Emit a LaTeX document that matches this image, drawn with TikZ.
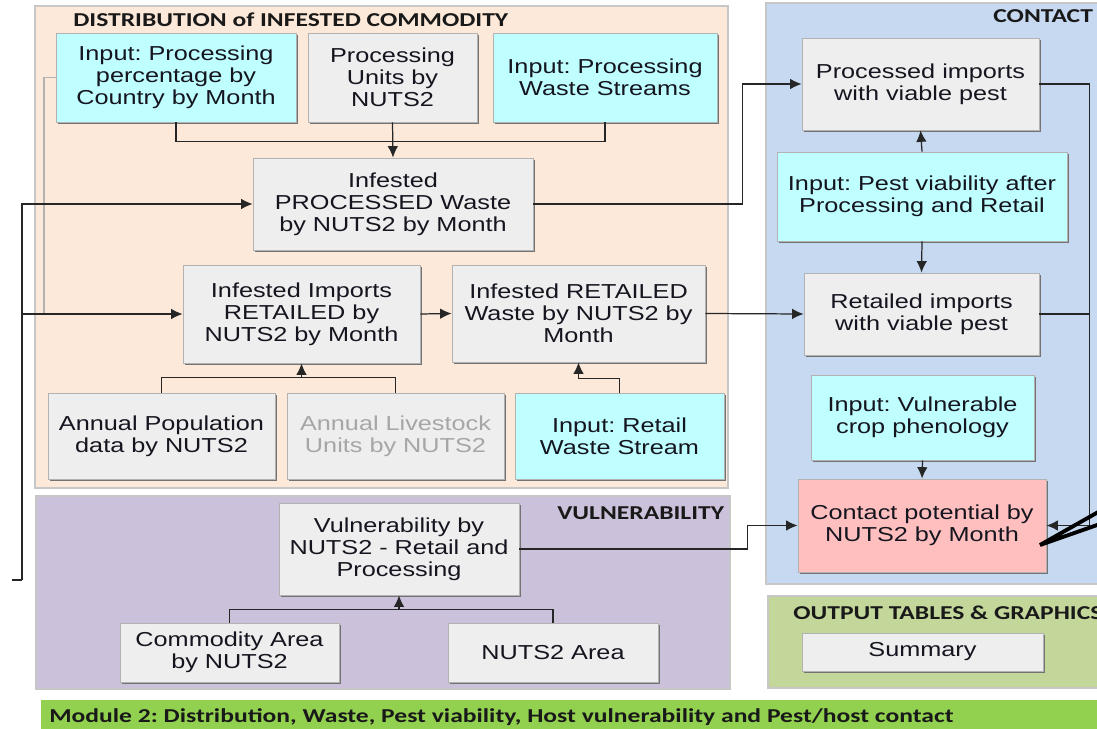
\documentclass[tikz,border=0pt]{standalone}
\usepackage{fontspec}
\newfontfamily\boxfont[FakeStretch=1.25]{Liberation Sans}
\newfontfamily\titlefont[FakeStretch=1.3]{Carlito}
\usepackage{tikz}
\usetikzlibrary{arrows,arrows.meta,shadows}
\frenchspacing

\definecolor{distpeach}{HTML}{FDE9D9}
\definecolor{contblue}{HTML}{C6D9F0}
\definecolor{vulnpurple}{HTML}{CCC1DA}
\definecolor{outgreen}{HTML}{C4D79B}
\definecolor{bargreen}{HTML}{92D050}
\definecolor{boxgray}{HTML}{EEEEEE}
\definecolor{incyan}{HTML}{BFFFFF}
\definecolor{contpink}{HTML}{FFBFBF}
\definecolor{lstgray}{HTML}{A6A6A6}
\definecolor{boxtext}{HTML}{15151F}

\newcommand\bxf{\boxfont\fontsize{11.5}{12.5}\selectfont}
\newcommand\ttlf{\titlefont\bfseries\fontsize{11.2}{13}\selectfont}

\tikzset{
  panel/.style={draw=black!22, line width=0.8pt},
  bx/.style={draw=black!30, line width=0.5pt, fill=boxgray, align=center, text=boxtext,
    font=\bxf, inner sep=1pt,
    drop shadow={shadow xshift=1.3pt, shadow yshift=-1.3pt, fill=black!55, opacity=1}},
  inbx/.style={bx, fill=incyan},
  ttl/.style={anchor=west, font=\ttlf, text=black!90, inner sep=0pt},
  link/.style={line width=0.7pt, draw=black!85},
}

\begin{document}
\begin{tikzpicture}[>={Latex[length=6.5pt,width=6pt]}, x=0.02cm, y=-0.02cm]
		%\draw [help lines] (0,0) grid (1097,729);
		\clip (0,0) rectangle (1097,729);
		\fill [white] (0,0) rectangle (1097,729);
		
		% Pannelli
		\draw [panel, fill=distpeach] (35,6) rectangle (728,488);
		\draw [panel, fill=contblue] (766,3) rectangle (1110,584);
		\draw [panel, fill=vulnpurple] (36,496) rectangle (730,689);
		\draw [panel, fill=outgreen] (768,596) rectangle (1110,688);
		\fill [bargreen] (41,700) rectangle (1110,740);
		
		% Titoli
		\node [ttl] (tdist) at (73,20) {DISTRIBUTION of INFESTED COMMODITY};
		\node [ttl] (tcont) at (993,16) {CONTACT};
		\node [ttl] (tvuln) at (557,513) {VULNERABILITY};
		\node [ttl] (tout) at (793,613) {OUTPUT TABLES \& GRAPHICS};
		\node [ttl] (tmod) at (49,717) {Module 2: Distribution, Waste, Pest viability, Host vulnerability and Pest/host contact};
		
		% Distribuzione
		\node [inbx, minimum width=4.8cm, minimum height=1.78cm] (inppct) at (176,77.5) {Input: Processing\\percentage by\\Country by Month};
		\node [bx, minimum width=3.38cm, minimum height=1.78cm] (procunits) at (392.5,77.5) {Processing\\Units by\\NUTS2};
		\node [inbx, minimum width=4.48cm, minimum height=1.78cm] (inwaste) at (605,77.5) {Input: Processing\\Waste Streams};
		\node [bx, minimum width=5.6cm, minimum height=1.84cm] (procwaste) at (393,204) {Infested\\PROCESSED Waste\\by NUTS2 by Month};
		\node [bx, minimum width=4.74cm, minimum height=1.96cm] (retail) at (301.5,314) {Infested Imports\\RETAILED by\\NUTS2 by Month};
		\node [bx, minimum width=5.06cm, minimum height=1.94cm] (retwaste) at (578.5,313.5) {Infested RETAILED\\Waste by NUTS2 by\\Month};
		\node [bx, minimum width=4.54cm, minimum height=1.72cm] (pop) at (161.5,436) {Annual Population\\data by NUTS2};
		\node [bx, text=lstgray, minimum width=4.34cm, minimum height=1.72cm] (livestock) at (395.5,436) {Annual Livestock\\Units by NUTS2};
		\node [inbx, minimum width=4.18cm, minimum height=1.72cm] (inretail) at (619.5,436) {Input: Retail\\Waste Stream};
		
		% Contatto
		\node [bx, minimum width=4.74cm, minimum height=1.84cm] (procimp) at (920.5,84) {Processed imports\\with viable pest};
		\node [inbx, minimum width=5.8cm, minimum height=1.78cm] (inviab) at (922,196.5) {Input: Pest viability after\\Processing and Retail};
		\node [bx, minimum width=4.7cm, minimum height=1.64cm] (retimp) at (921.5,314) {Retailed imports\\with viable pest};
		\node [inbx, minimum width=4.46cm, minimum height=1.7cm] (invuln) at (922.5,417.5) {Input: Vulnerable\\crop phenology};
		\node [bx, fill=contpink, minimum width=4.96cm, minimum height=1.86cm] (contact) at (922,525.5) {Contact potential by\\NUTS2 by Month};
		
		% Vulnerabilita
		\node [bx, minimum width=4.8cm, minimum height=1.84cm] (vuln) at (399,549) {Vulnerability by\\NUTS2 - Retail and\\Processing};
		\node [bx, minimum width=4.38cm, minimum height=1.18cm] (commarea) at (229.5,652.5) {Commodity Area\\by NUTS2};
		\node [bx, minimum width=4.2cm, minimum height=1.18cm] (nutsarea) at (553,652.5) {NUTS2 Area};
		
		% Output
		\node [bx, minimum width=4.82cm, minimum height=0.76cm] (summary) at (922.5,652) {Summary};
		
		% Collegamenti
		\coordinate (feed) at (12,580);
		\coordinate (spine) at (22,580);
		\coordinate (gend) at (44,315);
		\draw [draw=black!30, line width=0.8pt] (inppct.west) -| (gend);
		\draw [link] (feed) -- (spine);
		\draw [link, ->] (spine) |- (procwaste.west);
		\draw [link, ->] (spine) |- (retail.west);
		
		\draw [link] (inppct.south) -- ++(0,19) -| (inwaste.south);
		\draw [link, ->] (procunits.south) -- (procwaste.north);
		
		\draw [link, ->] (retail.east) -- (retwaste.west);
		\draw [link] (pop.north) -- ++(0,-15) -| (livestock.north);
		\draw [link, ->] (retail.south |- pop.north) ++(0,-15) -- (retail.south);
		\draw [link, ->] (inretail.north) -- ++(0,-14) -| (retwaste.south);
		
		\draw [link, ->] (procwaste.east) -- ++(209,0) |- (procimp.west);
		\draw [link, ->] (retwaste.east) -- (retimp.west);
		\draw [link, ->] (inviab.north) -- (procimp.south);
		\draw [link, ->] (inviab.south) -- (retimp.north);
		\draw [link, ->] (invuln.south) -- (contact.north);
		\draw [link, ->] (procimp.east) -- ++(50,0) |- (contact.east);
		\draw [link] (retimp.east) -- ++(50,0);
		
		\draw [link, ->] (vuln.east) -- ++(228,0) |- (contact.west);
		\draw [link] (commarea.north) -- ++(0,-13) -| (nutsarea.north);
		\draw [link, ->] (vuln.south |- commarea.north) ++(0,-13) -- (vuln.south);
		
		% Freccia
		\coordinate (chA) at (1100,511);
		\coordinate (chB) at (1100,524);
		\coordinate (chtip) at (1040,545);
		\draw [line width=2.2pt, line cap=round] (chA) -- (chtip) -- (chB);
	\end{tikzpicture}
\end{document}
